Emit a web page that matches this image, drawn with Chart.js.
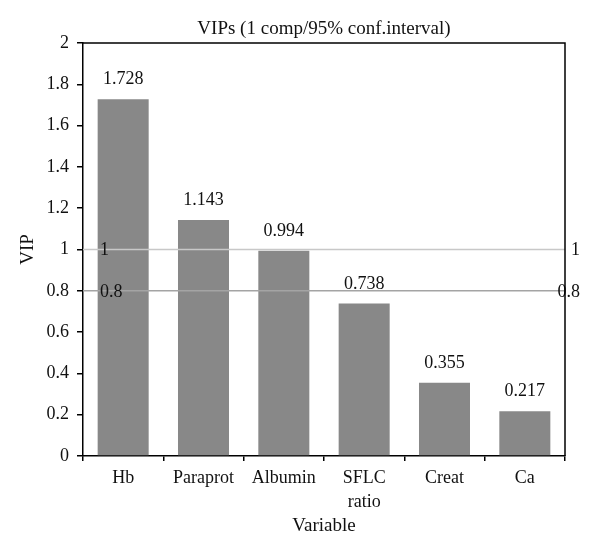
<!DOCTYPE html>
<html>
<head>
<meta charset="utf-8">
<script src="https://cdn.jsdelivr.net/npm/chart.js@4/dist/chart.umd.min.js"></script>
<style>
  html, body { margin: 0; padding: 0; background: #fff; }
  #wrap { width: 600px; height: 556px; }
</style>
</head>
<body>
<div id="wrap"><canvas id="c" width="600" height="556"></canvas></div>
<script>
const categories = ["Hb", "Paraprot", "Albumin", ["SFLC", "ratio"], "Creat", "Ca"];
const vipValues = [1.728, 1.143, 0.994, 0.738, 0.355, 0.217];
const valueLabels = ["1.728", "1.143", "0.994", "0.738", "0.355", "0.217"];
const yTickLabels = ["0", "0.2", "0.4", "0.6", "0.8", "1", "1.2", "1.4", "1.6", "1.8", "2"];
const refLines = [1, 0.8];
const refLabels = ["1", "0.8"];
const refColors = ["#c8c8c8", "#a4a4a4"];

const FONT = "'Liberation Serif', 'DejaVu Serif', serif";
const TXT = "#111";

const overlay = {
  id: 'overlay',
  afterDatasetsDraw(chart) {
    const ctx = chart.ctx;
    const area = chart.chartArea;
    const y = chart.scales.y;
    ctx.save();
    refLines.forEach((v, i) => {
      const py = y.getPixelForValue(v);
      ctx.strokeStyle = refColors[i];
      ctx.lineWidth = 1.5;
      ctx.beginPath();
      ctx.moveTo(area.left, py);
      ctx.lineTo(area.right, py);
      ctx.stroke();
      ctx.fillStyle = TXT;
      ctx.font = "18px " + FONT;
      ctx.textBaseline = 'middle';
      ctx.textAlign = 'left';
      ctx.fillText(refLabels[i], area.left + 17, py + 1);
      ctx.textAlign = 'right';
      ctx.fillText(refLabels[i], area.right + 15, py + 1);
    });
    const meta = chart.getDatasetMeta(0);
    ctx.fillStyle = TXT;
    ctx.font = "18px " + FONT;
    ctx.textAlign = 'center';
    ctx.textBaseline = 'alphabetic';
    meta.data.forEach((bar, i) => {
      ctx.fillText(valueLabels[i], bar.x, bar.y - 15);
    });
    ctx.strokeStyle = '#000';
    ctx.lineWidth = 1.5;
    ctx.beginPath();
    ctx.moveTo(area.left, area.top);
    ctx.lineTo(area.right, area.top);
    ctx.lineTo(area.right, area.bottom);
    ctx.stroke();
    ctx.restore();
  }
};

new Chart(document.getElementById('c'), {
  type: 'bar',
  data: {
    labels: categories,
    datasets: [{
      data: vipValues,
      backgroundColor: '#888888',
      borderWidth: 0,
      categoryPercentage: 0.635,
      barPercentage: 1.0
    }]
  },
  options: {
    responsive: false,
    animation: false,
    devicePixelRatio: 1,
    layout: { padding: { left: 0, right: 35, top: 0, bottom: 0 } },
    plugins: {
      legend: { display: false },
      tooltip: { enabled: false },
      title: {
        display: true,
        fullSize: false,
        text: 'VIPs (1 comp/95% conf.interval)',
        color: TXT,
        font: { family: FONT, size: 19, weight: 'normal', lineHeight: 1.2 },
        padding: { top: 17.6, bottom: 2.6 }
      }
    },
    scales: {
      x: {
        afterFit(scale) { scale.height = 100; },
        grid: { display: true, drawOnChartArea: false, drawTicks: true, tickLength: 5, color: '#000', lineWidth: 1.5, offset: true },
        border: { display: true, color: '#000', width: 1.5 },
        ticks: { color: TXT, padding: 5, maxRotation: 0, autoSkip: false, font: { family: FONT, size: 18, lineHeight: 1.35 } },
        title: { display: true, text: 'Variable', color: TXT, padding: { top: 0, bottom: 18.6 }, font: { family: FONT, size: 19, lineHeight: 1.2 } }
      },
      y: {
        min: 0, max: 2,
        afterFit(scale) { scale.width = 83; },
        grid: { display: true, drawOnChartArea: false, drawTicks: true, tickLength: 6, color: '#000', lineWidth: 1.5 },
        border: { display: true, color: '#000', width: 1.5 },
        ticks: {
          stepSize: 0.2, color: TXT, padding: 8, font: { family: FONT, size: 18 },
          callback: (value, index) => yTickLabels[index]
        },
        title: { display: true, text: 'VIP', color: TXT, padding: { top: 16.6, bottom: 0 }, font: { family: FONT, size: 19, lineHeight: 1.2 } }
      }
    }
  },
  plugins: [overlay]
});
</script>
</body>
</html>
